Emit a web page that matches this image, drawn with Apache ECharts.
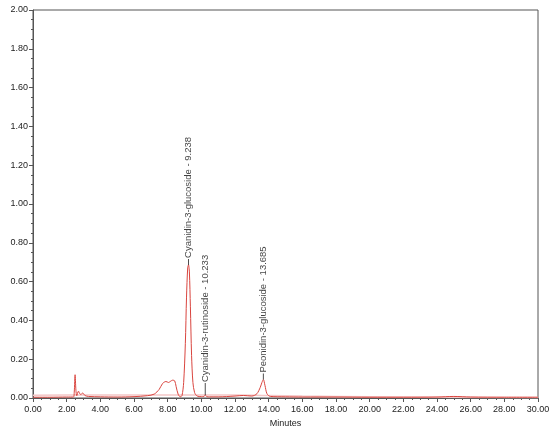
<!DOCTYPE html>
<html>
<head>
<meta charset="utf-8">
<script src="https://cdn.jsdelivr.net/npm/echarts@6/dist/echarts.min.js"></script>
<style>
    html, body { margin: 0; padding: 0; background: #fff; }
    #chart { width: 550px; height: 427px; }
</style>
</head>
<body>
<div id="chart"></div>
<script>
// main chromatogram trace (minutes, AU)
const times = [0, 1, 2, 2.4, 2.45, 2.5, 2.55, 2.6, 2.7, 2.78, 2.85, 2.95, 3.02, 3.1, 3.3, 4, 5, 6, 6.8, 7.2, 7.5, 7.7, 7.9, 8.05, 8.15, 8.3, 8.42, 8.5, 8.62, 8.75, 8.85, 8.95, 9.05, 9.12, 9.19, 9.238, 9.29, 9.35, 9.42, 9.5, 9.6, 9.75, 10.0, 10.15, 10.233, 10.32, 10.5, 11, 12, 12.5, 13, 13.3, 13.5, 13.6, 13.685, 13.78, 13.9, 14.1, 15, 16, 18, 20, 22, 24, 25, 26, 28, 30];
const signal = [0.004, 0.004, 0.005, 0.005, 0.03, 0.12, 0.04, 0.012, 0.035, 0.022, 0.018, 0.026, 0.02, 0.012, 0.008, 0.006, 0.005, 0.007, 0.012, 0.02, 0.045, 0.075, 0.085, 0.08, 0.085, 0.092, 0.088, 0.06, 0.02, 0.006, 0.012, 0.08, 0.28, 0.52, 0.67, 0.686, 0.65, 0.47, 0.22, 0.08, 0.028, 0.01, 0.007, 0.008, 0.015, 0.007, 0.006, 0.006, 0.01, 0.013, 0.01, 0.022, 0.055, 0.08, 0.095, 0.065, 0.022, 0.008, 0.006, 0.005, 0.005, 0.004, 0.004, 0.005, 0.008, 0.005, 0.004, 0.004];

// faint second trace near the baseline
const blankTimes = [0, 2, 4, 8, 12, 14, 16, 20, 24, 30];
const blankSignal = [0.014, 0.015, 0.015, 0.016, 0.016, 0.013, 0.01, 0.006, 0.004, 0.003];

// peak annotations
const peakNames = ['Cyanidin-3-glucoside - 9.238', 'Cyanidin-3-rutinoside - 10.233', 'Peonidin-3-glucoside - 13.685'];
const peakTimes = [9.238, 10.233, 13.685];
const peakHeights = [0.686, 0.015, 0.095];
const leaderLen = [6, 12, 6];

const chart = echarts.init(document.getElementById('chart'));

const axisColor = '#555';
const textColor = '#222';
const fontFamily = 'Liberation Sans, Arial, sans-serif';

chart.setOption({
    animation: false,
    grid: {
        left: 33,
        right: 12,
        top: 10,
        bottom: 29,
        outerBoundsMode: 'none',
        containLabel: false,
        show: true,
        borderColor: axisColor,
        borderWidth: 1
    },
    xAxis: {
        type: 'value',
        min: 0,
        max: 30,
        interval: 2,
        name: 'Minutes',
        nameLocation: 'center',
        nameGap: 16,
        nameTextStyle: { color: textColor, fontSize: 9, fontFamily: fontFamily },
        axisLine: { lineStyle: { color: axisColor } },
        axisTick: { length: 4, lineStyle: { color: axisColor } },
        minorTick: { show: true, splitNumber: 4, length: 2, lineStyle: { color: axisColor } },
        splitLine: { show: false },
        axisLabel: {
            color: textColor,
            fontSize: 9,
            fontFamily: fontFamily,
            margin: 7,
            formatter: v => v.toFixed(2)
        }
    },
    yAxis: {
        type: 'value',
        min: 0,
        max: 2,
        interval: 0.2,
        name: 'AU',
        nameLocation: 'center',
        nameGap: 24,
        nameTextStyle: { color: textColor, fontSize: 9, fontFamily: fontFamily },
        axisLine: { show: true, lineStyle: { color: axisColor } },
        axisTick: { show: true, length: 4, lineStyle: { color: axisColor } },
        minorTick: { show: true, splitNumber: 4, length: 2, lineStyle: { color: axisColor } },
        splitLine: { show: false },
        axisLabel: {
            color: textColor,
            fontSize: 9,
            fontFamily: fontFamily,
            margin: 5,
            formatter: v => v.toFixed(2)
        }
    },
    series: [
        {
            type: 'line',
            data: blankTimes.map((t, i) => [t, blankSignal[i]]),
            showSymbol: false,
            smooth: true,
            lineStyle: { color: '#f4c6c6', width: 1.5 },
            z: 1
        },
        {
            type: 'line',
            data: times.map((t, i) => [t, signal[i]]),
            showSymbol: false,
            smooth: 0.3,
            lineStyle: { color: '#d9453f', width: 1 },
            z: 2
        },
        {
            type: 'scatter',
            data: peakTimes.map((t, i) => ({
                value: [t, peakHeights[i]],
                symbolSize: [1, leaderLen[i]],
                symbolOffset: [0, -leaderLen[i] / 2],
                label: { distance: 1 },
                name: peakNames[i]
            })),
            symbol: 'rect',
            itemStyle: { color: '#222' },
            label: {
                show: true,
                position: 'top',
                rotate: 90,
                align: 'left',
                verticalAlign: 'middle',
                color: '#111',
                fontSize: 9.5,
                fontFamily: fontFamily,
                formatter: p => p.name
            },
            z: 3
        }
    ]
});
</script>
</body>
</html>
